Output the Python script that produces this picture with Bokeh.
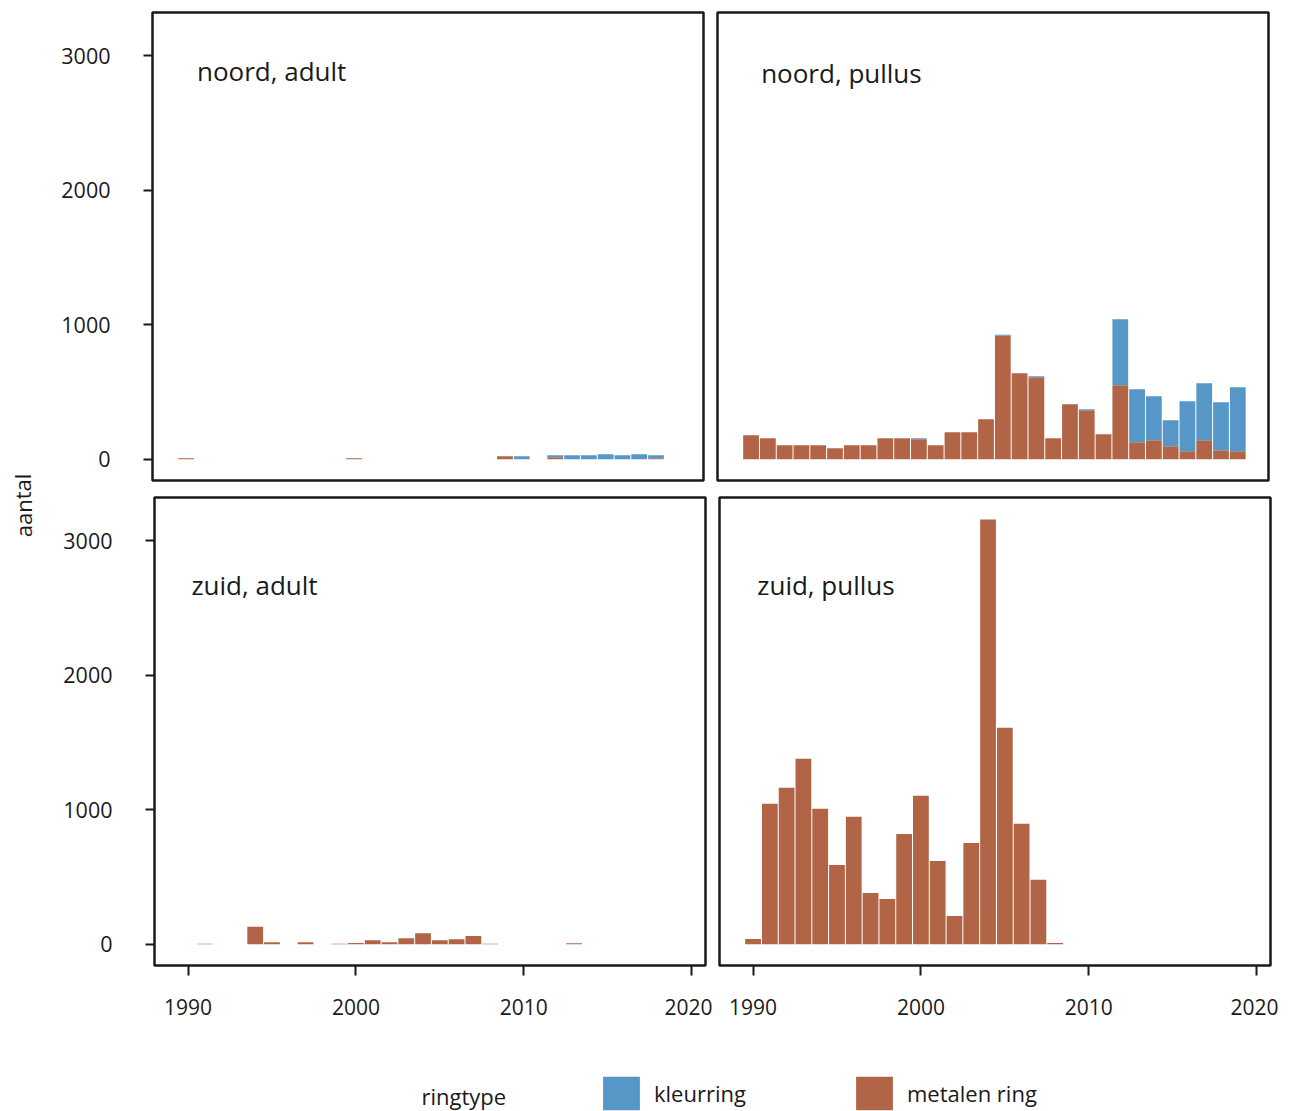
from bokeh.plotting import figure
from bokeh.models import Range1d, FixedTicker, Label, Legend, LegendItem, ColumnDataSource
from bokeh.layouts import row, column
from bokeh.embed import file_html
from bokeh.resources import INLINE

# ---------------- data ----------------
years_noord_adult = [1990, 2000, 2009, 2010, 2012, 2013, 2014, 2015, 2016, 2017, 2018]
metal_noord_adult = [7, 7, 22, 0, 15, 0, 0, 0, 0, 0, 7]
kleur_noord_adult = [0, 0, 0, 22, 15, 30, 30, 37, 30, 37, 23]

years_noord_pullus = [1990, 1991, 1992, 1993, 1994, 1995, 1996, 1997, 1998, 1999,
                      2000, 2001, 2002, 2003, 2004, 2005, 2006, 2007, 2008, 2009,
                      2010, 2011, 2012, 2013, 2014, 2015, 2016, 2017, 2018, 2019]
metal_noord_pullus = [179, 156, 104, 104, 104, 82, 104, 104, 156, 156,
                      149, 104, 201, 201, 298, 918, 640, 610, 156, 409,
                      365, 186, 551, 127, 141, 97, 60, 141, 67, 60]
kleur_noord_pullus = [0, 0, 0, 0, 0, 0, 0, 0, 0, 0,
                      7, 0, 0, 0, 0, 8, 0, 8, 0, 0,
                      7, 0, 491, 394, 328, 193, 372, 425, 357, 476]

years_zuid_adult = [1991, 1994, 1995, 1997, 1999, 2000, 2001, 2002, 2003, 2004,
                    2005, 2006, 2007, 2008, 2013]
metal_zuid_adult = [3, 130, 15, 15, 3, 10, 30, 15, 45, 82, 30, 37, 62, 3, 7]
kleur_zuid_adult = [0, 0, 0, 0, 0, 0, 0, 0, 0, 0, 0, 0, 0, 0, 0]

years_zuid_pullus = [1990, 1991, 1992, 1993, 1994, 1995, 1996, 1997, 1998, 1999,
                     2000, 2001, 2002, 2003, 2004, 2005, 2006, 2007, 2008]
metal_zuid_pullus = [40, 1045, 1164, 1380, 1007, 590, 948, 382, 337, 821,
                     1104, 620, 211, 754, 3159, 1610, 896, 479, 10]
kleur_zuid_pullus = [0] * len(years_zuid_pullus)

y_ticks = [0, 1000, 2000, 3000]
x_ticks = [1990, 2000, 2010, 2020]
ring_types = ["kleurring", "metalen ring"]
panel_titles = ["noord, adult", "noord, pullus", "zuid, adult", "zuid, pullus"]

# ---------------- style ----------------
BLUE = "#5697c8"
BROWN = "#b26546"
INK = "#1a1a1a"
FONT = "Open Sans"

x_range = Range1d(1988.0, 2020.83)
y_range = Range1d(-158, 3323)


def make_panel(years, metal, kleur, title, tx, ty, width, height,
               mb_left, mb_right, mb_top, mb_bottom, show_x, show_y):
    p = figure(width=width, height=height, x_range=x_range, y_range=y_range,
               output_backend="svg", toolbar_location=None, title=None,
               x_axis_location="below" if show_x else None,
               y_axis_location="left" if show_y else None)
    p.min_border_left = mb_left
    p.min_border_right = mb_right
    p.min_border_top = mb_top
    p.min_border_bottom = mb_bottom
    p.outline_line_color = INK
    p.outline_line_width = 2.5
    p.outline_line_alpha = 1
    p.background_fill_color = "white"
    p.border_fill_color = "white"
    p.grid.visible = False

    src = ColumnDataSource(dict(year=years, metal=metal, kleur=kleur))
    rs = p.vbar_stack(["metal", "kleur"], x="year", width=0.94, source=src,
                      fill_color=[BROWN, BLUE], line_color=None)

    if show_y:
        ax = p.yaxis[0]
        ax.ticker = FixedTicker(ticks=y_ticks)
        ax.major_tick_out = 9
        ax.major_tick_in = 0
        ax.minor_tick_out = 0
        ax.minor_tick_in = 0
        ax.axis_line_color = None
        ax.major_tick_line_color = INK
        ax.major_tick_line_width = 2
        ax.major_label_standoff = 33
        ax.major_label_text_font = FONT
        ax.major_label_text_font_size = "21.5px"
        ax.major_label_text_color = INK
    if show_x:
        ax = p.xaxis[0]
        ax.ticker = FixedTicker(ticks=x_ticks)
        ax.major_tick_out = 10
        ax.major_tick_in = 0
        ax.minor_tick_out = 0
        ax.minor_tick_in = 0
        ax.axis_line_color = None
        ax.major_tick_line_color = INK
        ax.major_tick_line_width = 2
        ax.major_label_standoff = 23
        ax.major_label_text_font = FONT
        ax.major_label_text_font_size = "21px"
        ax.major_label_text_color = INK

    p.add_layout(Label(x=tx, y=ty, text=title, text_font=FONT,
                       text_font_size="26px", text_color=INK,
                       text_baseline="middle", text_align="left"))
    return p, rs


tl, _ = make_panel(years_noord_adult, metal_noord_adult, kleur_noord_adult,
                   panel_titles[0], 1990.65, 2886, 662, 489, 104, 7, 12, 9, False, True)
tr, _ = make_panel(years_noord_pullus, metal_noord_pullus, kleur_noord_pullus,
                   panel_titles[1], 1990.6, 2871, 568, 489, 7, 10, 12, 9, False, False)
bl, _ = make_panel(years_zuid_adult, metal_zuid_adult, kleur_zuid_adult,
                   panel_titles[2], 1990.2, 2670, 664, 531, 106, 7, 8, 55, True, True)
br, _ = make_panel(years_zuid_pullus, metal_zuid_pullus, kleur_zuid_pullus,
                   panel_titles[3], 1990.25, 2670, 566, 531, 7, 8, 8, 55, True, False)

# ---------------- legend strip ----------------
LF_H = 91
lf = figure(width=1230, height=LF_H, output_backend="svg", toolbar_location=None,
            title=None, x_axis_location=None, y_axis_location=None,
            x_range=Range1d(0, 1), y_range=Range1d(0, 1))
lf.min_border_left = 0
lf.min_border_right = 0
lf.min_border_top = 0
lf.min_border_bottom = 0
lf.outline_line_color = None
lf.grid.visible = False
# swatch renderers: their single point lies outside the strip's range, only the legend shows them
lsrc = ColumnDataSource(dict(x=[5.0], top=[5.0]))
r_k = lf.vbar(x="x", top="top", width=0.1, source=lsrc, fill_color=BLUE, line_color=None)
r_m = lf.vbar(x="x", top="top", width=0.1, source=lsrc, fill_color=BROWN, line_color=None)
legend = Legend(items=[LegendItem(label=ring_types[0], renderers=[r_k]),
                       LegendItem(label=ring_types[1], renderers=[r_m])],
                orientation="horizontal", location=(550, -3),
                glyph_width=46, glyph_height=42, label_height=42,
                label_standoff=10, spacing=105, padding=0, margin=0,
                border_line_color=None, background_fill_alpha=0,
                label_text_font=FONT, label_text_font_size="22px",
                label_text_color=INK)
lf.add_layout(legend)
lf.add_layout(Label(x=373, y=16, x_units="screen", y_units="screen", text="ringtype",
                    text_font=FONT, text_font_size="22px", text_color=INK,
                    text_baseline="middle", text_align="left"))

# ---------------- y label strip ----------------
YL_H = 1111
yl = figure(width=48, height=YL_H, output_backend="svg", toolbar_location=None,
            title=None, x_axis_location=None, y_axis_location=None,
            x_range=Range1d(0, 1), y_range=Range1d(0, 1))
yl.min_border_left = 0
yl.min_border_right = 0
yl.min_border_top = 0
yl.min_border_bottom = 0
yl.outline_line_color = None
yl.grid.visible = False
yl.add_layout(Label(x=22, y=YL_H - 505, x_units="screen", y_units="screen", text="aantal",
                    angle=1.5708, text_font=FONT, text_font_size="22px", text_color=INK,
                    text_baseline="middle", text_align="center"))

layout = row(yl, column(row(tl, tr), row(bl, br), lf))

open("out.html", "w").write(file_html(layout, INLINE))
